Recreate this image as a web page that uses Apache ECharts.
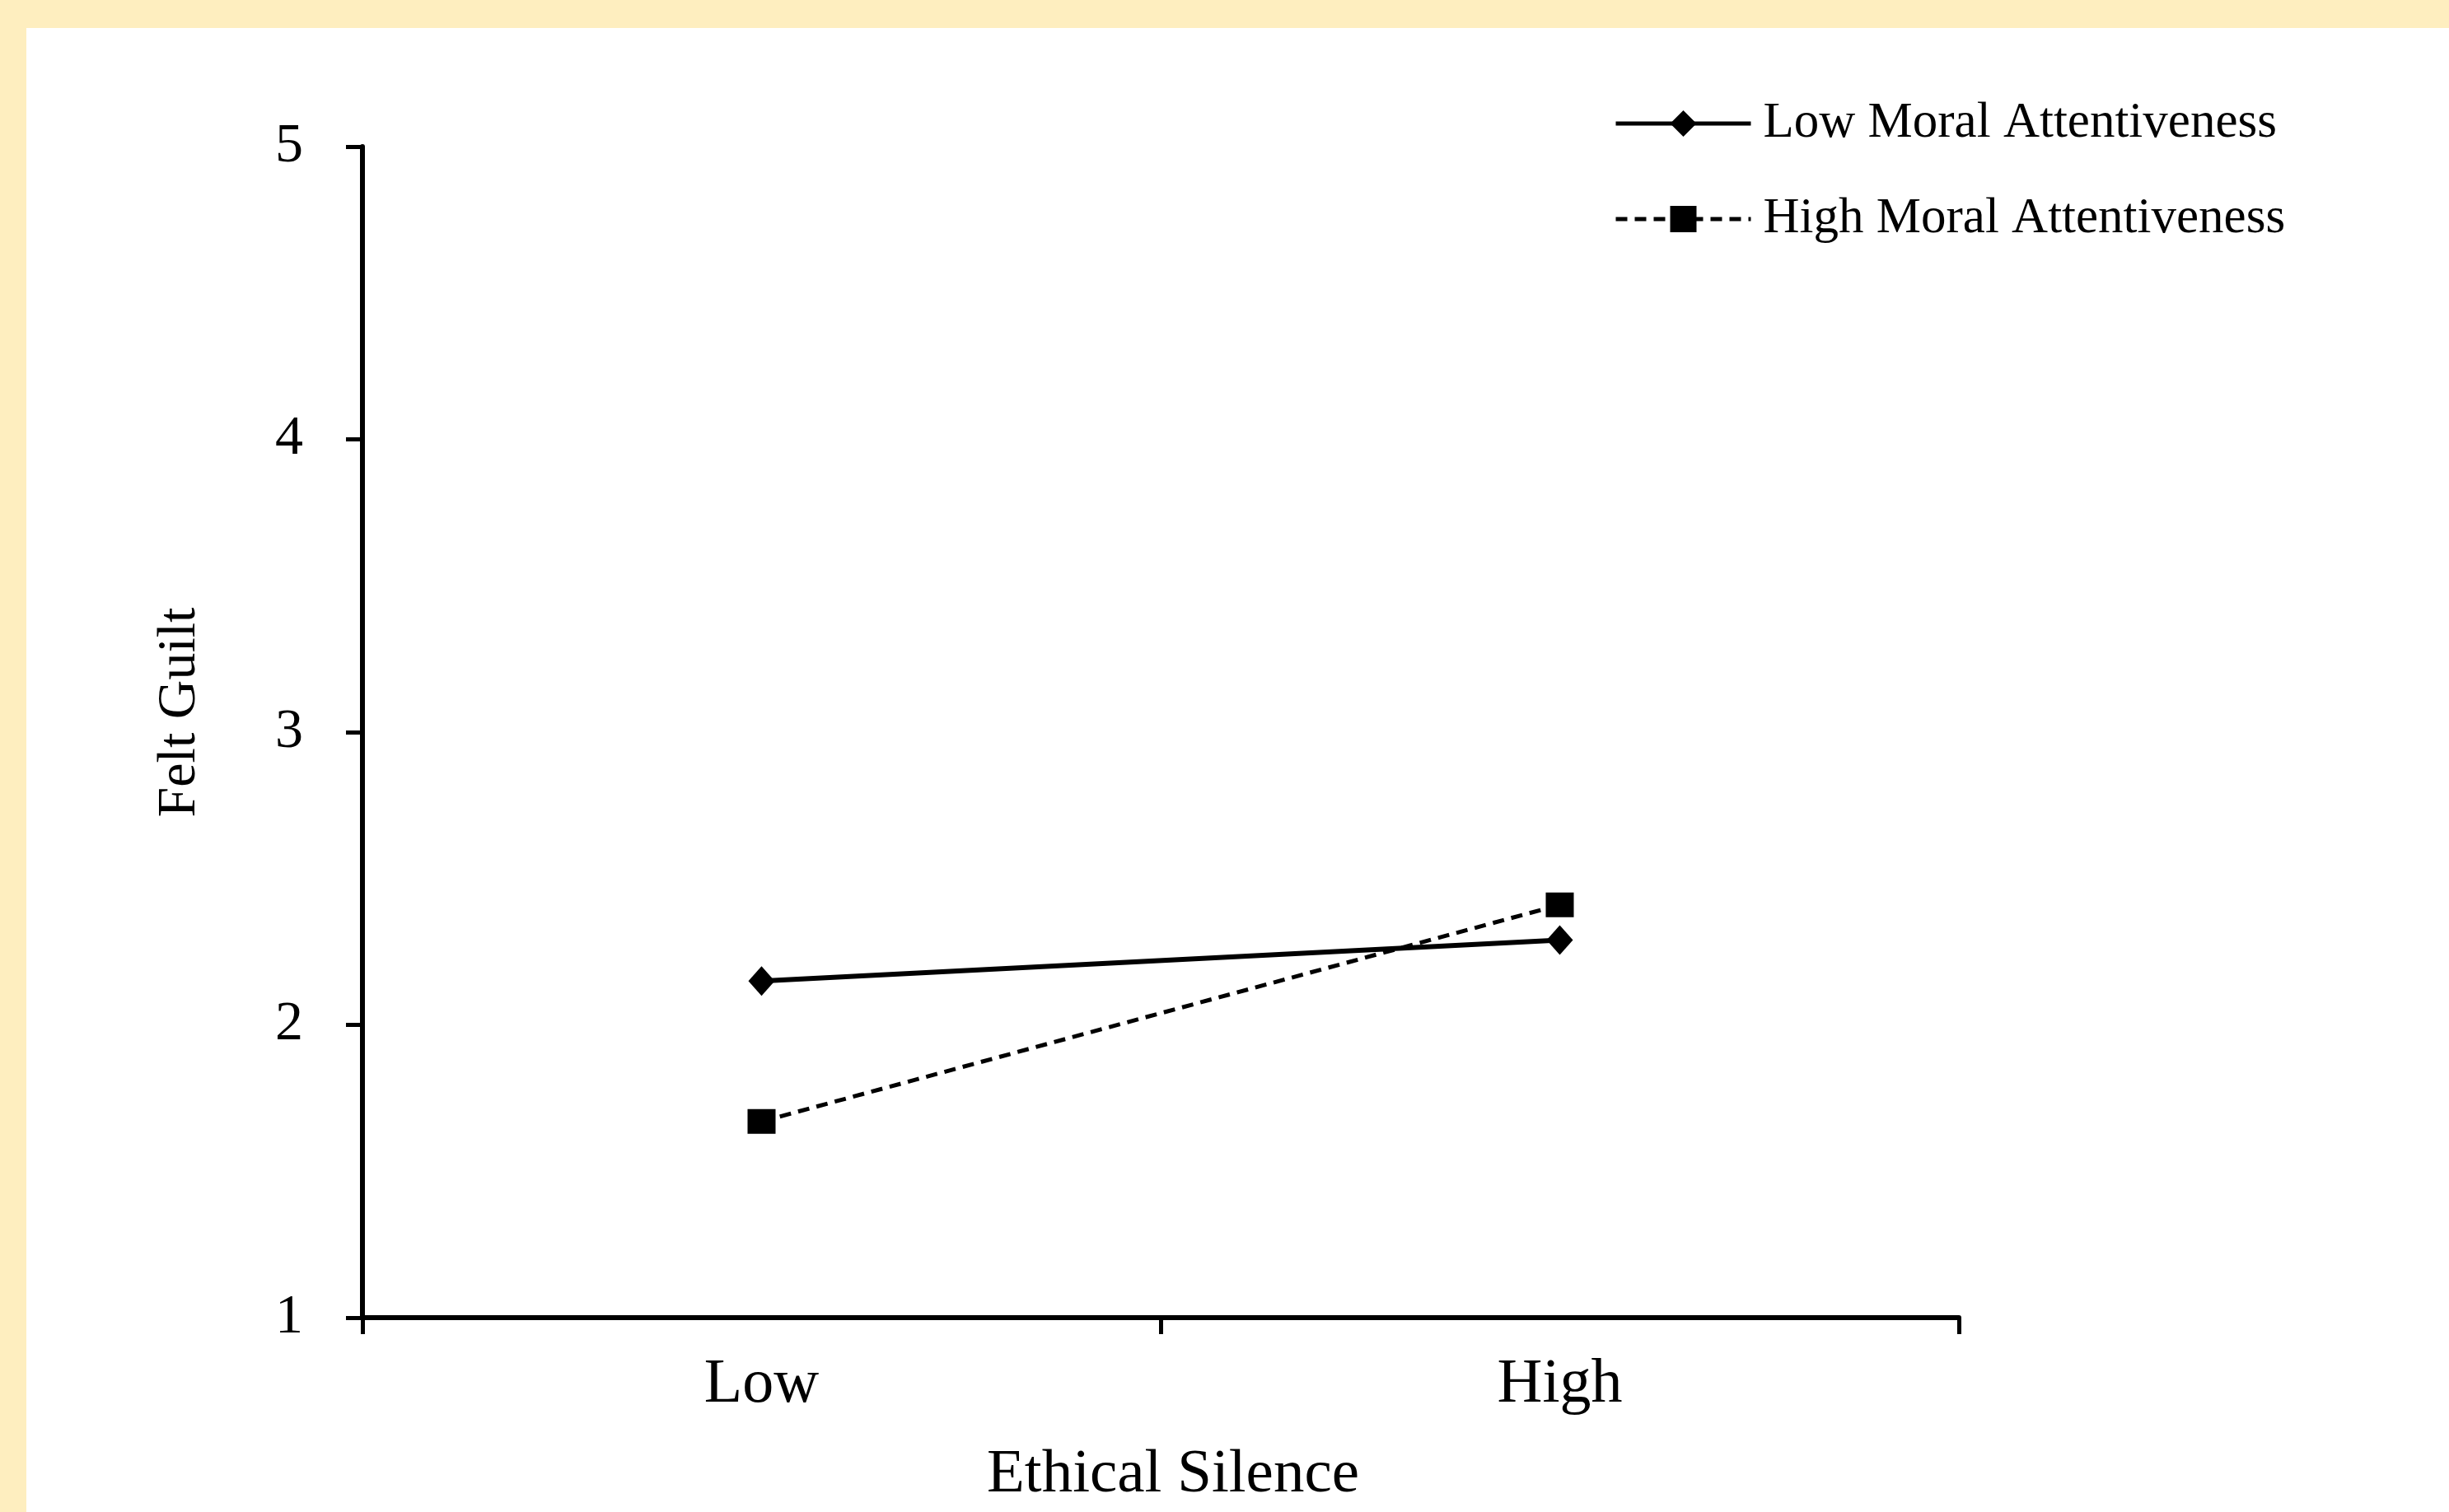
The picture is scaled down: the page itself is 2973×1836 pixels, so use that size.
<!DOCTYPE html>
<html lang="en">
<head>
    <meta charset="UTF-8">
    <title>Felt Guilt by Ethical Silence</title>
    <style>
        html, body {margin: 0; padding: 0; background: #feeebf;}
        #chart {
            position: absolute;
            left: 32px;
            top: 34px;
            width: 2941px;
            height: 1802px;
            background: #ffffff;
        }
    </style>
</head>
<body>

    <div id="chart"></div>

    <script src="https://cdn.jsdelivr.net/npm/echarts/dist/echarts.min.js"></script>
    <script>

// data
const categories = ['Low', 'High'];
const seriesNames = ['Low Moral Attentiveness', 'High Moral Attentiveness'];
const lowMoral = [2.15, 2.29];
const highMoral = [1.67, 2.41];
const yTicks = [1, 2, 3, 4, 5];

const serif = '"Liberation Serif", "Times New Roman", serif';

const chart = echarts.init(document.getElementById('chart'));

chart.setOption({
    animation: false,
    grid: {left: 408, right: 595, top: 144, bottom: 236},
    legend: {
        orient: 'vertical',
        left: 1922,
        top: 80,
        itemWidth: 164,
        itemHeight: 40,
        itemGap: 54,
        data: seriesNames,
        lineStyle: {width: 5},
        textStyle: {
            fontFamily: serif,
            fontSize: 61,
            lineHeight: 62,
            color: '#000',
            padding: [0, 0, 0, 10]
        }
    },
    xAxis: {
        type: 'category',
        data: categories,
        boundaryGap: true,
        name: 'Ethical Silence',
        nameLocation: 'middle',
        nameGap: 154,
        nameTextStyle: {fontFamily: serif, fontSize: 75, color: '#000', padding: [0, 0, 0, 30]},
        axisLine: {lineStyle: {color: '#000', width: 6}},
        axisTick: {show: true, length: 20, lineStyle: {color: '#000', width: 5}},
        axisLabel: {fontFamily: serif, fontSize: 76, color: '#000', margin: 44},
        splitLine: {show: false}
    },
    yAxis: {
        type: 'value',
        min: yTicks[0],
        max: yTicks[yTicks.length - 1],
        interval: 1,
        name: 'Felt Guilt',
        nameLocation: 'middle',
        nameGap: 188,
        nameTextStyle: {fontFamily: serif, fontSize: 66, color: '#000', padding: [0, 0, 0, 48]},
        axisLine: {show: true, lineStyle: {color: '#000', width: 6}},
        axisTick: {show: true, length: 20, lineStyle: {color: '#000', width: 5}},
        axisLabel: {fontFamily: serif, fontSize: 68, color: '#000', margin: 72},
        splitLine: {show: false}
    },
    series: [
        {
            name: seriesNames[0],
            type: 'line',
            data: lowMoral,
            symbol: 'diamond',
            symbolSize: [32, 36],
            itemStyle: {color: '#000'},
            lineStyle: {color: '#000', width: 6, type: 'solid'}
        },
        {
            name: seriesNames[1],
            type: 'line',
            data: highMoral,
            symbol: 'rect',
            symbolSize: [34, 30],
            itemStyle: {color: '#000'},
            lineStyle: {color: '#000', width: 5, type: [14, 9]}
        }
    ]
});
    </script>

</body>
</html>
